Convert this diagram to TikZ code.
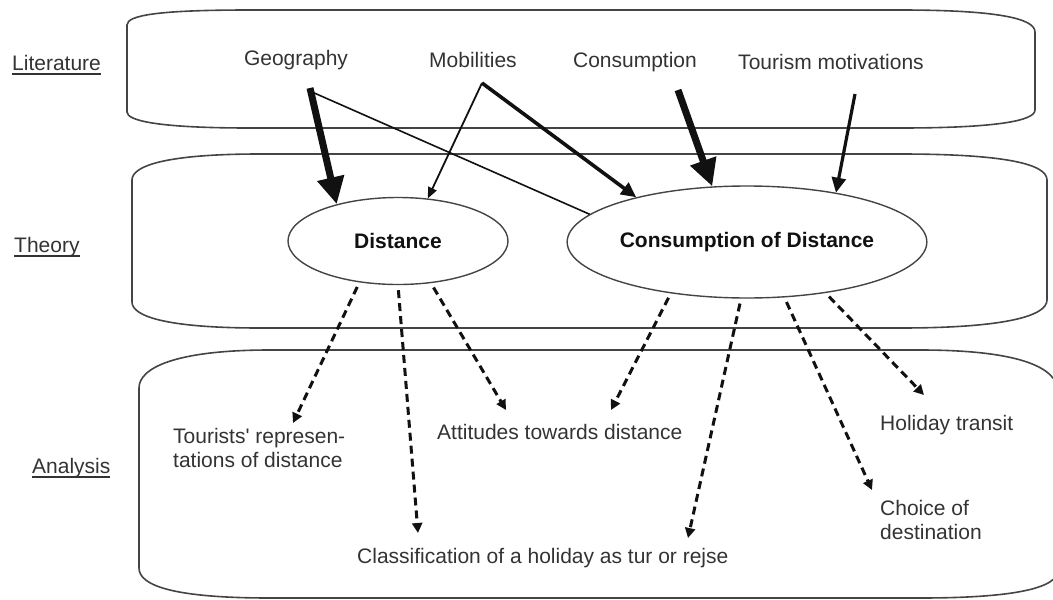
\documentclass[tikz,border=0pt]{standalone}
\usepackage{fontspec}
\setmainfont{Liberation Sans}
\usetikzlibrary{arrows.meta,shapes.geometric}
\definecolor{txt}{HTML}{333333}
\definecolor{boxc}{HTML}{444444}
\definecolor{arr}{HTML}{111111}
\newcommand{\ulabel}[1]{\setbox0\hbox{#1}\rlap{\raisebox{-4.5pt}{\rule{\wd0}{1.6pt}}}\box0}
\tikzset{
  lbl/.style={inner sep=0pt,text=txt,font=\fontsize{21}{24}\selectfont,align=left},
  sidelbl/.style={inner sep=0pt,text=txt,font=\fontsize{21}{24}\selectfont,anchor=west},
  ell/.style={ellipse,draw=boxc,line width=1.4pt,inner sep=0pt,text=arr,font=\fontsize{21}{24}\selectfont\bfseries},
  layer/.style={draw=boxc,line width=1.6pt},
  heavy/.style={draw=arr,line width=7pt,-{Triangle[length=27pt,width=26pt]}},
  medium/.style={draw=arr,line width=3.6pt,-{Triangle[length=15pt,width=14pt]}},
  light/.style={draw=arr,line width=1.8pt,-{Triangle[length=11pt,width=9pt]}},
  plain/.style={draw=arr,line width=1.6pt},
  dasharrow/.style={draw=arr,line width=3pt,dash pattern=on 8pt off 5pt,shorten <=5pt,-{Triangle[length=10pt,width=10pt]}}
}
\begin{document}
\begin{tikzpicture}[x=1pt,y=-1pt]
\useasboundingbox (0,0) rectangle (1053,600);
% layer boxes
\path[layer] (250,10) -- (900,10) .. controls (995,10) and (1035,18) .. (1035,32) -- (1035,110)
  .. controls (1035,121) and (995,128) .. (900,128) -- (250,128)
  .. controls (160,128) and (127,121) .. (127,112) -- (127,25)
  .. controls (127,15) and (160,10) .. (250,10) -- cycle;
\path[layer] (260,154) -- (900,154) .. controls (1005,154) and (1047,164) .. (1047,180) -- (1047,300)
  .. controls (1047,316) and (1005,328) .. (900,328) -- (260,328)
  .. controls (165,328) and (132,316) .. (132,302) -- (132,180)
  .. controls (132,166) and (165,154) .. (260,154) -- cycle;
\path[layer] (270,350) -- (920,350) .. controls (1015,350) and (1058,366) .. (1058,392) -- (1058,570)
  .. controls (1058,588) and (1015,598) .. (920,598) -- (270,598)
  .. controls (175,598) and (139,586) .. (139,568) -- (139,388)
  .. controls (139,368) and (175,350) .. (270,350) -- cycle;
% side labels
\node[sidelbl] (litl) at (12,65) {\ulabel{Literature}};
\node[sidelbl] (theol) at (14,247) {\ulabel{Theory}};
\node[sidelbl] (anal) at (32,468) {\ulabel{Analysis}};
% literature items
\node[lbl] (geo) at (296,60) {Geography};
\node[lbl] (mob) at (473,60) {Mobilities};
\node[lbl] (cons) at (635,62) {Consumption};
\node[lbl] (tour) at (831,62) {Tourism motivations};
% theory ellipses
\node[ell,minimum width=220pt,minimum height=87pt] (dist) at (398,241) {Distance};
\node[ell,minimum width=340pt,minimum height=112pt] (cod) at (747,242) {Consumption of Distance};
% analysis items
\node[lbl,anchor=west] (trep) at (173,448) {Tourists\textquotesingle{} represen-\\tations of distance};
\node[lbl,anchor=west] (att) at (437,432) {Attitudes towards distance};
\node[lbl,anchor=west] (cls) at (357,558) {Classification of a holiday as tur or rejse};
\node[lbl,anchor=west] (hol) at (880,425) {Holiday transit};
\node[lbl,anchor=west] (cho) at (880,520) {Choice of\\destination};
% literature -> theory
\draw[plain] ([shift={(16,32)}]geo.center) -- (cod.170);
\draw[heavy] ([shift={(14,28)}]geo.center) -- (dist.149);
\draw[light] ([shift={(9,23)}]mob.center) -- (dist.55);
\draw[medium] ([shift={(9,23)}]mob.center) -- (cod.158);
\draw[heavy] ([shift={(43,28)}]cons.center) -- (cod.122);
\draw[medium,line width=3.2pt] ([shift={(24,32)}]tour.center) -- (cod.29);
% theory -> analysis
\draw[dasharrow] (dist.227) -- ([shift={(120,-25)}]trep.west);
\draw[dasharrow] (dist.270) -- ([shift={(61,-25)}]cls.west);
\draw[dasharrow] (dist.308) -- ([shift={(69,-22)}]att.west);
\draw[dasharrow] (cod.214) -- ([shift={(174,-22)}]att.west);
\draw[dasharrow] (cod.264) -- ([shift={(331,-20)}]cls.west);
\draw[dasharrow] (cod.304) -- ([shift={(-8,-30)}]cho.west);
\draw[dasharrow] (cod.327) -- ([shift={(44,-30)}]hol.west);
\end{tikzpicture}
\end{document}
